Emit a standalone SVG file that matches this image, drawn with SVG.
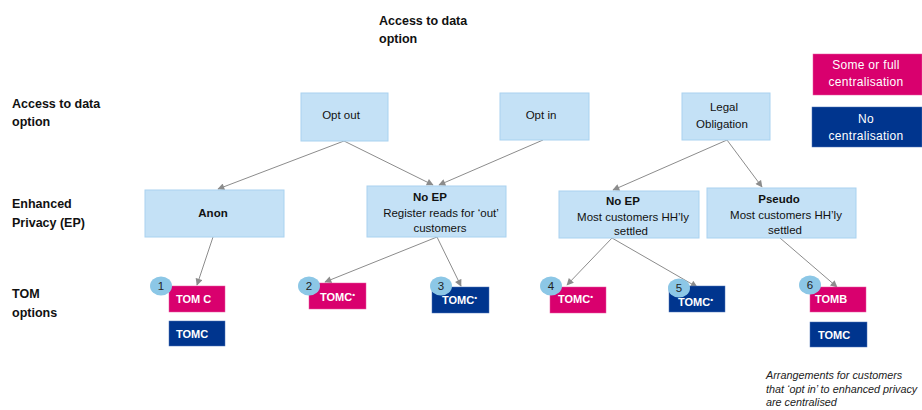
<svg xmlns="http://www.w3.org/2000/svg" width="922" height="410" viewBox="0 0 922 410">
  <style>
    text { font-family: "Liberation Sans", Arial, sans-serif; }
    .hdr { font-size: 12.5px; font-weight: bold; fill: #111; }
    .box { fill: #C4E1F6; stroke: #A9D2F0; stroke-width: 1; }
    .bt { font-size: 11.5px; fill: #111; text-anchor: middle; }
    .bb { font-size: 11.5px; font-weight: bold; fill: #111; text-anchor: middle; }
    .pink { fill: #D9006E; stroke: #E85AA0; stroke-width: 0.5; }
    .blue { fill: #00358E; stroke: #4E74B8; stroke-width: 0.5; }
    .tom { font-size: 11px; font-weight: bold; fill: #fff; }
    .sup { font-size: 8px; }
    .leg { font-size: 12px; fill: #fff; text-anchor: middle; letter-spacing: 0.3px; }
    .num { fill: #8CC7E6; }
    .nt { font-size: 11.5px; fill: #222; text-anchor: middle; }
    .edge { stroke: #8C8C8C; stroke-width: 1; fill: none; marker-end: url(#arr); }
    .note { font-size: 10.8px; font-style: italic; fill: #222; }
  </style>
  <defs>
    <marker id="arr" viewBox="0 0 10 10" refX="9" refY="5" markerWidth="8" markerHeight="7" markerUnits="userSpaceOnUse" orient="auto">
      <path d="M0,0 L10,5 L0,10 z" fill="#8C8C8C"/>
    </marker>
  </defs>

  <!-- headings -->
  <g id="title">
    <text class="hdr" x="379" y="25">Access to data</text>
    <text class="hdr" x="379" y="43">option</text>
  </g>
  <g id="row-labels">
    <text class="hdr" x="12" y="108">Access to data</text>
    <text class="hdr" x="12" y="126">option</text>
    <text class="hdr" x="12" y="208">Enhanced</text>
    <text class="hdr" x="12" y="227">Privacy (EP)</text>
    <text class="hdr" x="12" y="298">TOM</text>
    <text class="hdr" x="12" y="317">options</text>
  </g>

  <!-- legend -->
  <g id="legend-central">
    <rect class="pink" x="813" y="54" width="109" height="41"/>
    <text class="leg" x="866" y="69">Some or full</text>
    <text class="leg" x="866" y="86">centralisation</text>
  </g>
  <g id="legend-none">
    <rect class="blue" x="812" y="107" width="110" height="40"/>
    <text class="leg" x="866" y="123">No</text>
    <text class="leg" x="866" y="140">centralisation</text>
  </g>

  <!-- connectors -->
  <g id="connectors">
    <line class="edge" x1="344" y1="141" x2="218" y2="189"/>
    <line class="edge" x1="344" y1="141" x2="433" y2="185"/>
    <line class="edge" x1="543" y1="140" x2="439" y2="185"/>
    <line class="edge" x1="727" y1="140" x2="613" y2="190"/>
    <line class="edge" x1="727" y1="140" x2="762" y2="187"/>
    <line class="edge" x1="213" y1="237" x2="197" y2="285"/>
    <line class="edge" x1="437" y1="237" x2="325" y2="282"/>
    <line class="edge" x1="437" y1="237" x2="461" y2="286"/>
    <line class="edge" x1="612" y1="238" x2="567" y2="285"/>
    <line class="edge" x1="612" y1="238" x2="697" y2="287"/>
    <line class="edge" x1="780" y1="238" x2="837" y2="287"/>
  </g>

  <!-- access option nodes -->
  <g id="opt-out">
    <rect class="box" x="301" y="93" width="87" height="48"/>
    <text class="bt" x="341" y="119">Opt out</text>
  </g>
  <g id="opt-in">
    <rect class="box" x="500" y="93" width="89" height="47"/>
    <text class="bt" x="541" y="119">Opt in</text>
  </g>
  <g id="legal-obligation">
    <rect class="box" x="682" y="93" width="88" height="47"/>
    <text class="bt" x="724" y="111">Legal</text>
    <text class="bt" x="722" y="128">Obligation</text>
  </g>

  <!-- enhanced privacy nodes -->
  <g id="anon">
    <rect class="box" x="145" y="190" width="139" height="47"/>
    <text class="bb" x="213" y="217">Anon</text>
  </g>
  <g id="no-ep-register">
    <rect class="box" x="367" y="186" width="139" height="51"/>
    <text class="bb" x="430" y="201">No EP</text>
    <text class="bt" x="441" y="217">Register reads for ‘out’</text>
    <text class="bt" x="440" y="232">customers</text>
  </g>
  <g id="no-ep-hh">
    <rect class="box" x="559" y="191" width="140" height="47"/>
    <text class="bb" x="623" y="205">No EP</text>
    <text class="bt" x="633" y="221">Most customers HH’ly</text>
    <text class="bt" x="631" y="235">settled</text>
  </g>
  <g id="pseudo">
    <rect class="box" x="707" y="188" width="149" height="50"/>
    <text class="bb" x="779" y="203">Pseudo</text>
    <text class="bt" x="786" y="219">Most customers HH’ly</text>
    <text class="bt" x="785" y="234">settled</text>
  </g>

  <!-- TOM options -->
  <g id="tom-1">
    <rect class="pink" x="169" y="286" width="56" height="26"/>
    <text class="tom" x="176" y="303">TOM C</text>
    <rect class="blue" x="169" y="321" width="56" height="25"/>
    <text class="tom" x="176" y="338">TOMC</text>
    <ellipse class="num" cx="161" cy="286" rx="11" ry="9.5"/>
    <text class="nt" x="161" y="290">1</text>
  </g>
  <g id="tom-2">
    <rect class="pink" x="309" y="283" width="57" height="26"/>
    <text class="tom" x="320" y="301">TOMC<tspan class="sup" dy="-4">•</tspan></text>
    <ellipse class="num" cx="309" cy="286" rx="11" ry="9.5"/>
    <text class="nt" x="309" y="290">2</text>
  </g>
  <g id="tom-3">
    <rect class="blue" x="432" y="287" width="57" height="26"/>
    <text class="tom" x="442" y="304">TOMC<tspan class="sup" dy="-4">•</tspan></text>
    <ellipse class="num" cx="441" cy="286" rx="11" ry="9.5"/>
    <text class="nt" x="441" y="290">3</text>
  </g>
  <g id="tom-4">
    <rect class="pink" x="550" y="287" width="56" height="26"/>
    <text class="tom" x="558" y="303">TOMC<tspan class="sup" dy="-4">•</tspan></text>
    <ellipse class="num" cx="551" cy="286" rx="11" ry="9.5"/>
    <text class="nt" x="551" y="290">4</text>
  </g>
  <g id="tom-5">
    <rect class="blue" x="669" y="286" width="56" height="26"/>
    <text class="tom" x="678" y="306">TOMC<tspan class="sup" dy="-4">•</tspan></text>
    <ellipse class="num" cx="679" cy="288" rx="11" ry="9.5"/>
    <text class="nt" x="679" y="292">5</text>
  </g>
  <g id="tom-6">
    <rect class="pink" x="810" y="287" width="56" height="25"/>
    <text class="tom" x="815" y="303">TOMB</text>
    <rect class="blue" x="810" y="322" width="57" height="25"/>
    <text class="tom" x="818" y="339">TOMC</text>
    <ellipse class="num" cx="810" cy="285" rx="11" ry="9.5"/>
    <text class="nt" x="810" y="289">6</text>
  </g>

  <!-- footnote -->
  <g id="note">
    <text class="note" x="766" y="379">Arrangements for customers</text>
    <text class="note" x="766" y="393">that ‘opt in’ to enhanced privacy</text>
    <text class="note" x="766" y="406">are centralised</text>
  </g>
</svg>
